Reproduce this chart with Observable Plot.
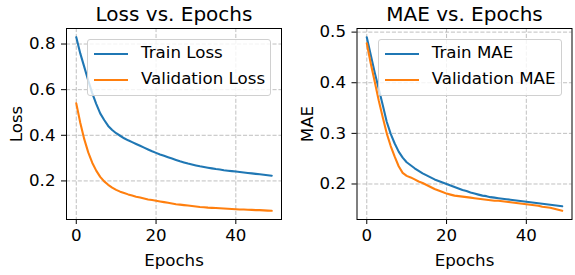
<!DOCTYPE html>
<html>
<head>
<meta charset="utf-8">
<script src="https://cdn.jsdelivr.net/npm/d3@7"></script>
<script src="https://cdn.jsdelivr.net/npm/@observablehq/plot@0.6"></script>
<style>
  html, body { margin: 0; padding: 0; background: white; }
  #root { position: relative; width: 575px; height: 275px; font-family: "DejaVu Sans", sans-serif; }
  .panel { position: absolute; top: 0; }
  .legend { position: absolute; box-sizing: border-box; background: rgba(255,255,255,0.8);
            border: 1px solid #d0d0d0; border-radius: 3px; font-size: 16.67px; color: black; }
  .row { position: absolute; left: 0; right: 0; height: 0; }
  .sample { position: absolute; left: 6px; width: 34.4px; height: 2.1px; top: -1.05px; }
  .label { position: absolute; left: 53px; top: 0; line-height: 1; transform: translateY(-0.55em); white-space: nowrap; }
</style>
</head>
<body>
<div id="root"></div>
<script>
const epochs = [0,1,2,3,4,5,6,7,8,9,10,11,12,13,14,15,16,17,18,19,20,21,22,23,24,25,26,27,28,29,30,31,32,33,34,35,36,37,38,39,40,41,42,43,44,45,46,47,48,49];

const trainLoss = [0.830,0.759,0.700,0.640,0.585,0.538,0.496,0.467,0.441,0.423,
  0.409,0.398,0.387,0.378,0.370,0.362,0.354,0.346,0.338,0.330,
  0.323,0.316,0.310,0.304,0.298,0.292,0.286,0.281,0.276,0.272,
  0.268,0.264,0.261,0.258,0.255,0.252,0.250,0.247,0.245,0.243,
  0.241,0.239,0.237,0.235,0.233,0.231,0.229,0.227,0.225,0.223];

const valLoss = [0.540,0.455,0.383,0.325,0.280,0.245,0.218,0.198,0.183,0.171,
  0.161,0.153,0.147,0.141,0.136,0.131,0.127,0.123,0.119,0.116,
  0.113,0.110,0.107,0.104,0.101,0.098,0.096,0.094,0.092,0.090,
  0.088,0.086,0.085,0.083,0.082,0.081,0.080,0.079,0.078,0.077,
  0.076,0.075,0.075,0.074,0.073,0.072,0.072,0.071,0.070,0.069];

const trainMAE = [0.490,0.455,0.420,0.388,0.356,0.323,0.299,0.280,0.264,0.252,
  0.243,0.237,0.231,0.226,0.221,0.217,0.213,0.209,0.206,0.203,
  0.200,0.197,0.194,0.191,0.188,0.186,0.183,0.181,0.179,0.177,
  0.176,0.174,0.173,0.172,0.171,0.170,0.169,0.168,0.167,0.166,
  0.165,0.164,0.163,0.162,0.161,0.160,0.159,0.158,0.157,0.156];

const valMAE = [0.478,0.438,0.402,0.365,0.332,0.300,0.275,0.254,0.235,0.222,
  0.216,0.213,0.209,0.205,0.202,0.198,0.194,0.190,0.187,0.184,
  0.181,0.179,0.177,0.176,0.175,0.174,0.173,0.172,0.171,0.170,
  0.169,0.168,0.167,0.167,0.166,0.165,0.164,0.163,0.162,0.161,
  0.160,0.159,0.158,0.157,0.155,0.154,0.153,0.151,0.149,0.147];

const xTicks = [0, 20, 40];
const lossTicks = [0.2, 0.4, 0.6, 0.8];
const maeTicks = [0.2, 0.3, 0.4, 0.5];

const colors = { train: "#1f77b4", val: "#ff7f0e" };

function padded(values) {
  const [lo, hi] = d3.extent(values);
  const m = (hi - lo) * 0.05;
  return [lo - m, hi + m];
}

const FS = 16.67;

function makePanel({left, width, marginLeft, marginRight, title, yLabel, yTicks, series, legendLeft, names}) {
  const rows = (arr) => epochs.map((e, i) => ({epoch: e, value: arr[i]}));
  const allY = series[0].concat(series[1]);
  const grid = {stroke: "#b0b0b0", strokeOpacity: 1, strokeWidth: 0.8, strokeDasharray: "4.1,1.8"};
  const txt = {fill: "black", lineAnchor: "middle", textAnchor: "middle"};
  const chart = Plot.plot({
    width, height: 275,
    marginLeft, marginRight, marginTop: 28, marginBottom: 56,
    style: {fontFamily: "DejaVu Sans", fontSize: FS + "px", color: "black", background: "white", overflow: "visible"},
    x: {domain: padded(epochs)},
    y: {domain: padded(allY)},
    marks: [
      Plot.gridX(xTicks, grid),
      Plot.gridY(yTicks, grid),
      Plot.line(rows(series[0]), {x: "epoch", y: "value", stroke: colors.train, strokeWidth: 2.08}),
      Plot.line(rows(series[1]), {x: "epoch", y: "value", stroke: colors.val, strokeWidth: 2.08}),
      Plot.axisX(xTicks, {tickSize: 5, tickPadding: 5, tickFormat: d => String(d), label: null, fontSize: FS, strokeWidth: 1}),
      Plot.axisY(yTicks, {tickSize: 5, tickPadding: 6, tickFormat: d3.format(".1f"), label: null, fontSize: FS, strokeWidth: 1}),
      Plot.frame({stroke: "black", strokeWidth: 1}),
      Plot.text([title], {...txt, frameAnchor: "top", dy: -13.5, fontSize: 20}),
      Plot.text(["Epochs"], {...txt, frameAnchor: "bottom", dy: 41.5, fontSize: FS}),
      Plot.text([yLabel], {...txt, frameAnchor: "left", dx: -49.5, rotate: -90, fontSize: FS})
    ]
  });
  const div = document.createElement("div");
  div.className = "panel";
  div.style.left = left + "px";
  div.style.width = width + "px";
  div.style.height = "275px";
  div.appendChild(chart);

  const lg = document.createElement("div");
  lg.className = "legend";
  lg.style.left = legendLeft + "px";
  lg.style.top = "38.5px";
  lg.style.width = "184px";
  lg.style.height = "57px";
  const rowTops = [14.2, 40.2];
  [colors.train, colors.val].forEach((c, i) => {
    const r = document.createElement("div");
    r.className = "row";
    r.style.top = rowTops[i] + "px";
    const s = document.createElement("div");
    s.className = "sample";
    s.style.background = c;
    const t = document.createElement("div");
    t.className = "label";
    t.textContent = names[i];
    r.appendChild(s); r.appendChild(t);
    lg.appendChild(r);
  });
  div.appendChild(lg);
  document.getElementById("root").appendChild(div);
}

makePanel({
  left: 0, width: 288, marginLeft: 66, marginRight: 7,
  title: "Loss vs. Epochs", yLabel: "Loss", yTicks: lossTicks,
  series: [trainLoss, valLoss], legendLeft: 87,
  names: ["Train Loss", "Validation Loss"]
});

makePanel({
  left: 288, width: 287, marginLeft: 68.5, marginRight: 3.5,
  title: "MAE vs. Epochs", yLabel: "MAE", yTicks: maeTicks,
  series: [trainMAE, valMAE], legendLeft: 89.7,
  names: ["Train MAE", "Validation MAE"]
});
</script>
</body>
</html>
